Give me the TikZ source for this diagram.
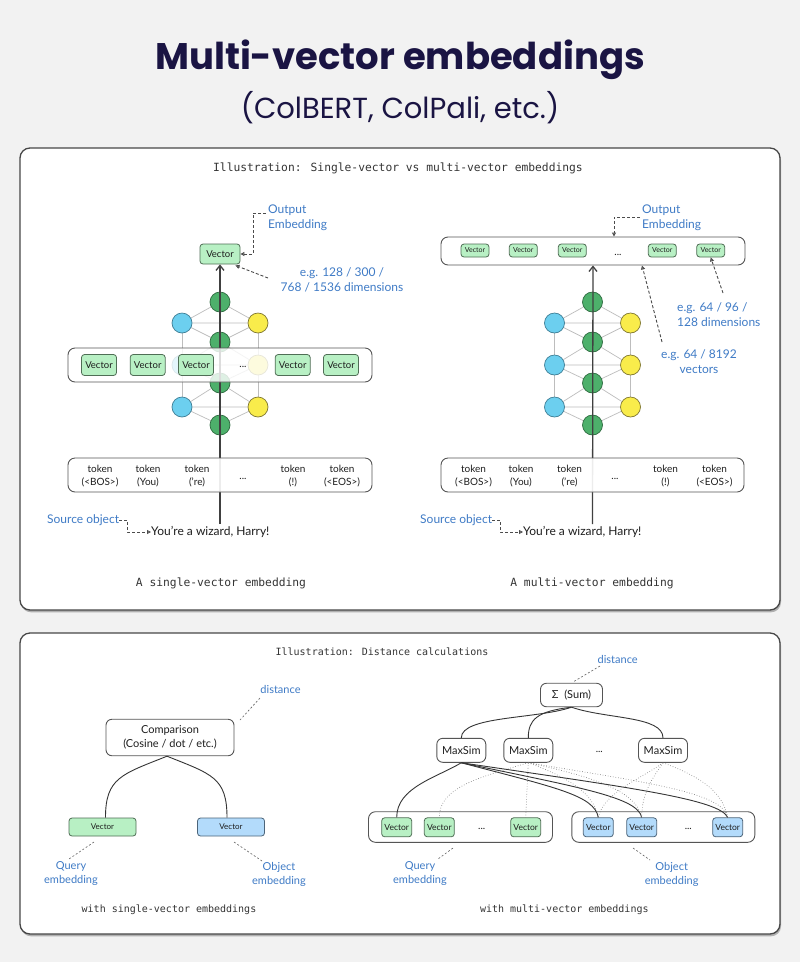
\documentclass[tikz,border=0pt]{standalone}
\usepackage{fontspec}
\setmainfont{Lato}
\newfontfamily\titlefont{Poppins}
\newfontfamily\monofont{DejaVu Sans Mono}
\usetikzlibrary{arrows.meta,calc}
\pgfdeclarelayer{back}
\pgfdeclarelayer{edges}
\pgfsetlayers{back,edges,main}
\definecolor{bgc}{HTML}{F2F2F2}
\definecolor{navy}{HTML}{1A1443}
\definecolor{pborder}{HTML}{474747}
\definecolor{shad}{HTML}{B0B0B0}
\definecolor{ann}{HTML}{3F7BC6}
\definecolor{ink}{HTML}{1E1E1E}
\definecolor{vgreen}{HTML}{B8F0C4}
\definecolor{vgreenb}{HTML}{4F6E55}
\definecolor{vblue}{HTML}{B3DBFB}
\definecolor{vblueb}{HTML}{4C6479}
\definecolor{cgreen}{HTML}{4DB06B}
\definecolor{cgreenb}{HTML}{2E6B40}
\definecolor{cblue}{HTML}{6CCFEF}
\definecolor{cblueb}{HTML}{3E7E95}
\definecolor{cyel}{HTML}{F9EC4B}
\definecolor{cyelb}{HTML}{7F7630}
\definecolor{edgec}{HTML}{BDBDBD}
\definecolor{boxb}{HTML}{555555}
\begin{document}
\begin{tikzpicture}[x=1pt,y=-1pt,
  panel/.style={draw=pborder, line width=1.3pt, fill=white, rounded corners=10pt},
  gc/.style={circle, minimum size=20pt, inner sep=0pt, fill=cgreen, draw=cgreenb, line width=0.7pt},
  bc/.style={gc, fill=cblue, draw=cblueb},
  yc/.style={gc, fill=cyel, draw=cyelb},
  nedge/.style={draw=edgec, line width=0.7pt},
  mainarr/.style={draw=ink!85, line width=1.3pt, -{Straight Barb[length=5pt,width=8pt]}},
  band/.style={draw=boxb, line width=0.9pt, rounded corners=7pt, fill=white, fill opacity=0.82, inner sep=0pt},
  tbox/.style={draw=boxb, line width=0.9pt, rounded corners=7pt, fill=white, fill opacity=0.9, inner sep=0pt},
  rbox/.style={draw=boxb, line width=0.9pt, rounded corners=6pt, fill=white, inner sep=0pt, align=center, text=ink, font=\fontsize{11}{14}\selectfont},
  vec/.style={draw=vgreenb, fill=vgreen, line width=0.8pt, rounded corners=3pt, inner sep=0pt, text=ink},
  vecb/.style={vec, draw=vblueb, fill=vblue},
  dasharr/.style={draw=ink!80, dash pattern=on 3pt off 2pt, line width=0.9pt, -{Triangle[open,length=4pt,width=4pt]}},
  annot/.style={text=ann, inner sep=0pt, font=\fontsize{12}{15}\selectfont},
  annots/.style={text=ann, inner sep=0pt, align=center, font=\fontsize{11}{14}\selectfont},
  dotl/.style={draw=ink!70, dash pattern=on 2pt off 2pt, line width=0.6pt},
  simlink/.style={draw=ink!65, dotted, line width=0.6pt},
  sollink/.style={draw=ink!90, line width=0.9pt},
  tok/.style={align=center, text=ink, inner sep=0pt, font=\fontsize{10}{13}\selectfont},
  hand/.style={text=ink, inner sep=0pt, font=\fontsize{12}{14}\selectfont},
  mono/.style={text=ink!90, inner sep=0pt, font=\monofont\fontsize{11.3}{13}\selectfont},
  monos/.style={text=ink!90, inner sep=0pt, font=\monofont\fontsize{10}{12}\selectfont}
]
\useasboundingbox (0,0) rectangle (800,962);
\begin{pgfonlayer}{back}
\fill[bgc] (0,0) rectangle (800,962);
\fill[shad, rounded corners=10pt] (21,150.5) rectangle (781,612.3);
\draw[panel] (20,148) rectangle (780,610);
\fill[shad, rounded corners=10pt] (21,635.5) rectangle (781,936.3);
\draw[panel] (20,633) rectangle (780,934);
\end{pgfonlayer}

% title
\node[text=navy, font=\titlefont\bfseries\fontsize{37}{40}\selectfont] (title) at (400,60) {Multi-vector embeddings};
\node[text=navy, font=\titlefont\fontsize{29}{32}\selectfont] (subtitle) at (400,108) {(ColBERT, ColPali, etc.)};

\node[mono] (toptitle) at (398,168) {Illustration: Single-vector vs multi-vector embeddings};

% networks
\foreach \p/\cx in {L/220,R/592.5}{
  \foreach \i/\yy in {1/302,2/342,3/383,4/425}
    \node[gc] (g\p\i) at (\cx,\yy) {};
  \foreach \i/\yy in {1/323,2/365,3/407}{
    \node[bc] (b\p\i) at (\cx-38,\yy) {};
    \node[yc] (y\p\i) at (\cx+38,\yy) {};
  }
}
\begin{pgfonlayer}{edges}
\foreach \p in {L,R}{
  \foreach \i/\j in {1/2,2/3,3/4}{
    \draw[nedge] (g\p\i) -- (b\p\i) (g\p\i) -- (y\p\i) (b\p\i) -- (g\p\j) (y\p\i) -- (g\p\j) (b\p\i) -- (y\p\i);
  }
  \foreach \i/\j in {1/2,2/3}{
    \draw[nedge] (b\p\i) -- (b\p\j) (y\p\i) -- (y\p\j);
  }
}
\end{pgfonlayer}

% ---------- left: single vector ----------
\node[vec, minimum width=40pt, minimum height=20pt, font=\fontsize{9.5}{10}\selectfont] (vecL) at (220,254) {Vector};
\coordinate (startL) at (220,524);
\draw[mainarr] (startL) -- (vecL.south);

\node[band, minimum width=304pt, minimum height=34pt] (bandL) at (220,365) {};
\foreach \n/\xx in {1/99,2/147.7,3/196,5/292.7,6/341}
  \node[vec, minimum width=35pt, minimum height=21pt, font=\fontsize{9.5}{10}\selectfont] (vL\n) at (\xx,365) {Vector};
\node[tok] (dotsL) at (243,367) {...};

\node[tbox, minimum width=304pt, minimum height=34pt] (tokL) at (220,475) {};
\foreach \n/\dx/\t in {1/-120/(<BOS>),2/-72/(You),3/-23/('re),5/73/(!),6/122/(<EOS>)}
  \node[tok] (tL\n) at (220+\dx,476) {token\\\t};
\node[tok] (tLd) at (243,479) {...};

\node[annot, align=left, anchor=west] (outL) at (268,217.5) {Output\\Embedding};
\draw[dasharr] ($(outL.west)+(-2,-4.5)$) -- ++(-13,0) |- (vecL.east);
\node[annot, align=center] (egL) at (342,279.5) {e.g. 128 / 300 /\\768 / 1536 dimensions};
\coordinate (egLs) at (268,278);
\draw[dasharr] (egLs) -- ($(vecL.south east)+(-5,1)$);

\node[annot, anchor=west] (srcL) at (47,520) {Source object};
\node[hand, anchor=west] (sentL) at (151,532) {You’re a wizard, Harry!};
\draw[dasharr] (srcL.east) -- ++(8,0) |- (sentL.west);

\node[mono] (capL) at (221,583) {A single-vector embedding};

% ---------- right: multi vector ----------
\node[band, fill opacity=1, minimum width=304pt, minimum height=28pt] (bandR) at (593,251) {};
\foreach \n/\xx in {1/475,2/523.3,3/572.3,5/662.3,6/710.7}
  \node[vec, minimum width=28pt, minimum height=13pt, font=\fontsize{7}{8}\selectfont] (vR\n) at (\xx,250.5) {Vector};
\node[tok] (dotsR) at (618,255) {...};
\coordinate (startR) at (592.5,524);
\draw[mainarr] (startR) -- (bandR.south);

\node[tbox, minimum width=303pt, minimum height=34pt] (tokR) at (592.5,475) {};
\foreach \n/\dx/\t in {1/-119/(<BOS>),2/-71.5/(You),3/-23/('re),5/73/(!),6/122/(<EOS>)}
  \node[tok] (tR\n) at (592.5+\dx,476) {token\\\t};
\node[tok] (tRd) at (615,479) {...};

\node[annot, align=left, anchor=west] (outR) at (642,217.5) {Output\\Embedding};
\coordinate (bandRtop) at ($(bandR.north)+(21,0)$);
\draw[dasharr] ($(outR.west)+(-2,-0.5)$) -| (bandRtop);

\node[annot, align=left, anchor=west] (eg1R) at (677,314.5) {e.g. 64 / 96 /\\128 dimensions};
\coordinate (eg1Rs) at (723,293);
\draw[dasharr] (eg1Rs) -- (vR6.south);
\node[annot, align=center] (eg2R) at (699,362) {e.g. 64 / 8192\\vectors};
\coordinate (eg2Rs) at (662,342);
\draw[dasharr] (eg2Rs) -- ($(bandR.south)+(49,0)$);

\node[annot, anchor=west] (srcR) at (420,520) {Source object};
\node[hand, anchor=west] (sentR) at (523,532) {You’re a wizard, Harry!};
\draw[dasharr] (srcR.east) -- ++(8,0) |- (sentR.west);

\node[mono] (capR) at (592,583) {A multi-vector embedding};

% ---------- bottom panel ----------
\node[monos] (bottitle) at (382,652) {Illustration: Distance calculations};

% left
\node[rbox, minimum width=128pt, minimum height=36.5pt] (cmp) at (170,737.5) {Comparison\\(Cosine / dot / etc.)};
\node[vec, minimum width=67pt, minimum height=18pt, font=\fontsize{8}{9}\selectfont] (qvL) at (102.5,827) {Vector};
\node[vecb, minimum width=67pt, minimum height=18pt, font=\fontsize{8}{9}\selectfont] (ovL) at (231,827) {Vector};
\draw[sollink] ($(cmp.south)+(-3,0)$) .. controls +(-45,18) and +(0,-40) .. ($(qvL.north)+(3,0)$);
\draw[sollink] ($(cmp.south)+(-3,0)$) .. controls +(45,18) and +(0,-40) .. ($(ovL.north)+(-4,0)$);
\node[annots] (distL) at (280.5,689) {distance};
\coordinate (dLa) at (260,698);
\coordinate (dLb) at (240,720);
\draw[dotl] (dLa) -- (dLb);
\node[annots] (qL) at (71,874) {Query\\embedding};
\node[annots] (oL) at (279,874) {Object\\embedding};
\coordinate (qLa) at (94,842);
\coordinate (qLb) at (69,859);
\draw[dotl] (qLa) -- (qLb);
\coordinate (oLa) at (234,842);
\coordinate (oLb) at (262,861);
\draw[dotl] (oLa) -- (oLb);
\node[monos] (capBL) at (169,910) {with single-vector embeddings};

% right
\node[rbox, minimum width=62pt, minimum height=23.5pt] (sum) at (571.5,695) {Σ\ \ (Sum)};
\node[annots] (distR) at (617.7,659) {distance};
\coordinate (dRa) at (600,666);
\coordinate (dRb) at (573,682);
\draw[dotl] (dRa) -- (dRb);

\node[rbox, minimum width=49pt, minimum height=24pt] (ms1) at (461.3,750.3) {MaxSim};
\node[rbox, minimum width=49pt, minimum height=24pt] (ms2) at (528.3,750.3) {MaxSim};
\node[tok] (msd) at (599.3,752) {...};
\node[rbox, minimum width=49pt, minimum height=24pt] (ms3) at (663,750.3) {MaxSim};

\draw[sollink] (sum.south) .. controls +(-35,12) and +(0,-22) .. (ms1.north);
\draw[sollink] (sum.south) .. controls +(-35,4) and +(0,-18) .. (ms2.north);
\draw[sollink] (sum.south) .. controls +(35,12) and +(0,-22) .. (ms3.north);

\node[tbox, fill opacity=1, minimum width=184pt, minimum height=30.6pt] (qband) at (460.5,827) {};
\node[tbox, fill opacity=1, minimum width=183pt, minimum height=30.6pt] (oband) at (663.3,827) {};
\foreach \n/\xx in {1/396.7,2/439.3,3/525.7}
  \node[vec, minimum width=30pt, minimum height=19pt, font=\fontsize{8.5}{9}\selectfont] (qv\n) at (\xx,827.3) {Vector};
\node[tok] (qd) at (481.7,829) {...};
\foreach \n/\xx in {1/598.3,2/641.7,3/727.7}
  \node[vecb, minimum width=30pt, minimum height=19pt, font=\fontsize{8.5}{9}\selectfont] (ov\n) at (\xx,827.3) {Vector};
\node[tok] (od) at (688.3,829) {...};

\draw[sollink] (ms1.south) .. controls +(-25,15) and +(0,-30) .. (qv1.north);
\draw[sollink] (ms1.south) .. controls +(95,25) and +(-4,-22) .. (ov1.north);
\draw[sollink] (ms1.south) .. controls +(120,25) and +(-4,-20) .. (ov2.north);
\draw[sollink] (ms1.south) .. controls +(170,25) and +(-8,-18) .. (ov3.north);

\draw[simlink] (ms2.south) .. controls +(-50,15) and +(0,-30) .. (qv2.north);
\draw[simlink] (ms2.south) -- (qv3.north);
\draw[simlink] (ms2.south) .. controls +(40,15) and +(-5,-25) .. (ov1.north);
\draw[simlink] (ms2.south) .. controls +(70,15) and +(-5,-25) .. (ov2.north);
\draw[simlink] (ms2.south) .. controls +(120,20) and +(-5,-25) .. (ov3.north);
\draw[simlink] (ms3.south) .. controls +(-20,15) and +(5,-25) .. (ov1.north);
\draw[simlink] (ms3.south) .. controls +(-10,15) and +(0,-25) .. (ov2.north);
\draw[simlink] (ms3.south) .. controls +(40,15) and +(-5,-25) .. (ov3.north);

\node[annots] (qR) at (420,874) {Query\\embedding};
\node[annots] (oR) at (671.7,874) {Object\\embedding};
\coordinate (qRa) at (453,848);
\coordinate (qRb) at (438,859);
\draw[dotl] (qRa) -- (qRb);
\coordinate (oRa) at (633,848);
\coordinate (oRb) at (650,860);
\draw[dotl] (oRa) -- (oRb);
\node[monos] (capBR) at (564.3,910) {with multi-vector embeddings};
\end{tikzpicture}
\end{document}
